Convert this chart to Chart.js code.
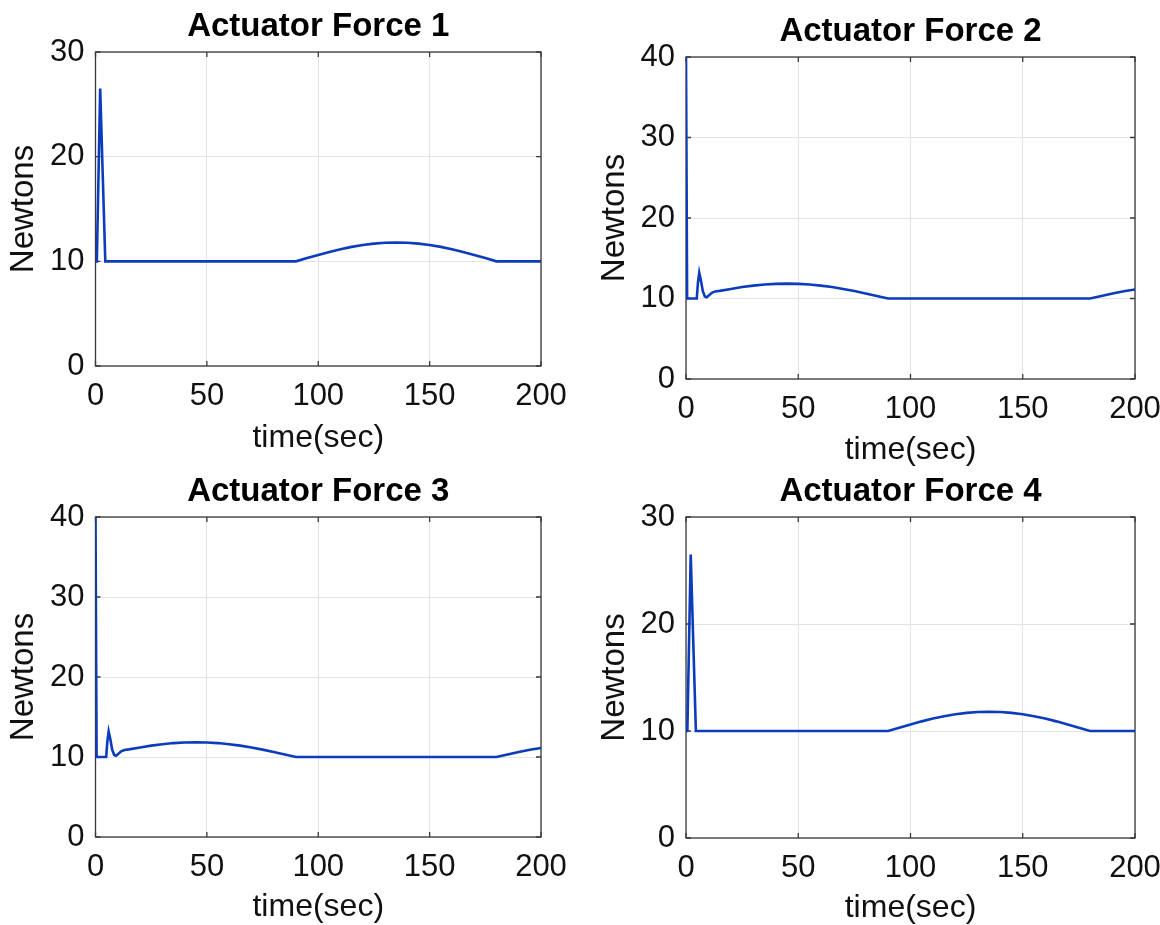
<!DOCTYPE html>
<html>
<head>
<meta charset="utf-8">
<title>Actuator Forces</title>
<script src="https://cdn.jsdelivr.net/npm/chart.js@4.4.1/dist/chart.umd.min.js"></script>
<style>
  html, body { margin: 0; padding: 0; background: #fff; }
  #wrap { position: relative; width: 1160px; height: 925px; overflow: hidden; }
  #wrap canvas { position: absolute; left: 0; top: 0; }
</style>
</head>
<body>
<div id="wrap">
  <canvas id="af1" width="1160" height="925"></canvas>
  <canvas id="af2" width="1160" height="925"></canvas>
  <canvas id="af3" width="1160" height="925"></canvas>
  <canvas id="af4" width="1160" height="925"></canvas>
</div>
<script>
// values (time in sec, force in Newtons)
const time14 = [0, 0.6, 2.1, 4.4, 90, 95, 100, 105, 110, 115, 120, 125, 130, 135, 140, 145, 150, 155, 160, 165, 170, 175, 180, 200];
const force1 = [10, 10, 26.5, 10, 10, 10.31, 10.61, 10.9, 11.16, 11.38, 11.56, 11.69, 11.77, 11.8, 11.77, 11.69, 11.56, 11.38, 11.16, 10.9, 10.61, 10.31, 10, 10];
const force4 = [10, 10, 26.5, 10, 10, 10.31, 10.61, 10.9, 11.16, 11.38, 11.56, 11.69, 11.77, 11.8, 11.77, 11.69, 11.56, 11.38, 11.16, 10.9, 10.61, 10.31, 10, 10];

const time23 = [0, 0.5, 4.8, 5.3, 5.9, 6.6, 7.5, 8.4, 9.2, 10.3, 11.5, 13, 15, 20, 25, 30, 35, 40, 45, 50, 55, 60, 65, 70, 75, 80, 85, 90, 180, 185, 190, 195, 200];
const force2 = [40, 10, 10, 11.9, 13.2, 12.3, 10.9, 10.25, 10.15, 10.4, 10.7, 10.88, 10.95, 11.19, 11.42, 11.6, 11.74, 11.82, 11.85, 11.82, 11.74, 11.6, 11.42, 11.19, 10.92, 10.63, 10.32, 10, 10, 10.32, 10.63, 10.9, 11.12];
const force3 = [40, 10, 10, 11.9, 13.2, 12.3, 10.9, 10.25, 10.15, 10.4, 10.7, 10.88, 10.95, 11.19, 11.42, 11.6, 11.74, 11.82, 11.85, 11.82, 11.74, 11.6, 11.42, 11.19, 10.92, 10.63, 10.32, 10, 10, 10.32, 10.63, 10.9, 11.12];

const xTicks = [0, 50, 100, 150, 200];
const yTicks30 = [0, 10, 20, 30];
const yTicks40 = [0, 10, 20, 30, 40];

const FONT = "'Liberation Sans', Arial, sans-serif";
const W = 1160, H = 925;

// MATLAB style box with inward tick marks
const boxPlugin = {
  id: "matlabBox",
  beforeDatasetsDraw(chart) {
    const { ctx, chartArea: a, scales } = chart;
    const x = scales.x, y = scales.y;
    ctx.save();
    ctx.strokeStyle = "#3a3a3a";
    ctx.lineWidth = 1.3;
    ctx.strokeRect(a.left, a.top, a.right - a.left, a.bottom - a.top);
    ctx.beginPath();
    x.ticks.forEach((t) => {
      const px = x.getPixelForValue(t.value);
      ctx.moveTo(px, a.bottom);
      ctx.lineTo(px, a.bottom - 5);
      ctx.moveTo(px, a.top);
      ctx.lineTo(px, a.top + 5);
    });
    y.ticks.forEach((t) => {
      const py = y.getPixelForValue(t.value);
      ctx.moveTo(a.left, py);
      ctx.lineTo(a.left + 5, py);
      ctx.moveTo(a.right, py);
      ctx.lineTo(a.right - 5, py);
    });
    ctx.stroke();
    ctx.restore();
  },
};

function makeChart(p) {
  const titleH = 33 * 1.2;
  const left0 = p.plot.l < W / 2 ? 0 : W / 2;
  const xBottom = p.xTitleY + 16;

  new Chart(document.getElementById(p.id), {
    type: "line",
    data: {
      datasets: [
        {
          data: p.t.map((t, i) => ({ x: t, y: p.y[i] })),
          borderColor: "#0a3cbb",
          borderWidth: 2.6,
          pointRadius: 0,
          tension: 0,
          fill: false,
        },
      ],
    },
    options: {
      responsive: false,
      animation: false,
      devicePixelRatio: 1,
      layout: {
        padding: {
          left: left0,
          top: p.titleY - titleH / 2,
          right: W - p.plot.r,
          bottom: H - xBottom,
        },
      },
      plugins: {
        legend: { display: false },
        tooltip: { enabled: false },
        title: {
          display: true,
          text: p.title,
          fullSize: false,
          color: "#000",
          font: { family: FONT, size: 33, weight: "bold", lineHeight: 1.2 },
          padding: { top: 0, bottom: p.plot.t - p.titleY - titleH / 2 },
        },
      },
      scales: {
        x: {
          type: "linear",
          min: 0,
          max: 200,
          afterBuildTicks: (s) => {
            s.ticks = xTicks.map((v) => ({ value: v }));
          },
          afterFit: (s) => {
            s.height = xBottom - p.plot.b;
            s.paddingLeft = 0;
            s.paddingRight = 0;
          },
          grid: { color: "#e4e4e4", lineWidth: 1, drawTicks: false },
          border: { display: false },
          ticks: {
            padding: 12,
            maxRotation: 0,
            color: "#111",
            font: { family: FONT, size: 31 },
          },
          title: {
            display: true,
            text: "time(sec)",
            color: "#111",
            font: { family: FONT, size: 32, lineHeight: 1 },
            padding: { top: 0, bottom: 0 },
          },
        },
        y: {
          type: "linear",
          min: 0,
          max: p.yTicks[p.yTicks.length - 1],
          afterBuildTicks: (s) => {
            s.ticks = p.yTicks.map((v) => ({ value: v }));
          },
          afterFit: (s) => {
            s.width = p.plot.l - left0;
            s.paddingTop = 0;
            s.paddingBottom = 0;
          },
          grid: { color: "#e4e4e4", lineWidth: 1, drawTicks: false },
          border: { display: false },
          ticks: {
            padding: 11,
            color: "#111",
            font: { family: FONT, size: 31 },
          },
          title: {
            display: true,
            text: "Newtons",
            color: "#111",
            font: { family: FONT, size: 33, lineHeight: 1 },
            padding: { top: p.yTitleX - left0 - 16.5, bottom: 0 },
          },
        },
      },
    },
    plugins: [boxPlugin],
  });
}

const panels = [
  { id: "af1", title: "Actuator Force 1", t: time14, y: force1, yTicks: yTicks30,
    plot: { l: 95.5, r: 541, t: 52, b: 366 }, titleY: 27, yTitleX: 24, xTitleY: 438 },
  { id: "af2", title: "Actuator Force 2", t: time23, y: force2, yTicks: yTicks40,
    plot: { l: 686, r: 1135, t: 57, b: 379 }, titleY: 31.5, yTitleX: 615, xTitleY: 450 },
  { id: "af3", title: "Actuator Force 3", t: time23, y: force3, yTicks: yTicks40,
    plot: { l: 95.5, r: 541, t: 517, b: 837 }, titleY: 492, yTitleX: 24, xTitleY: 907 },
  { id: "af4", title: "Actuator Force 4", t: time14, y: force4, yTicks: yTicks30,
    plot: { l: 686, r: 1135, t: 517, b: 838 }, titleY: 492, yTitleX: 615, xTitleY: 908 },
];

panels.forEach(makeChart);
</script>
</body>
</html>
